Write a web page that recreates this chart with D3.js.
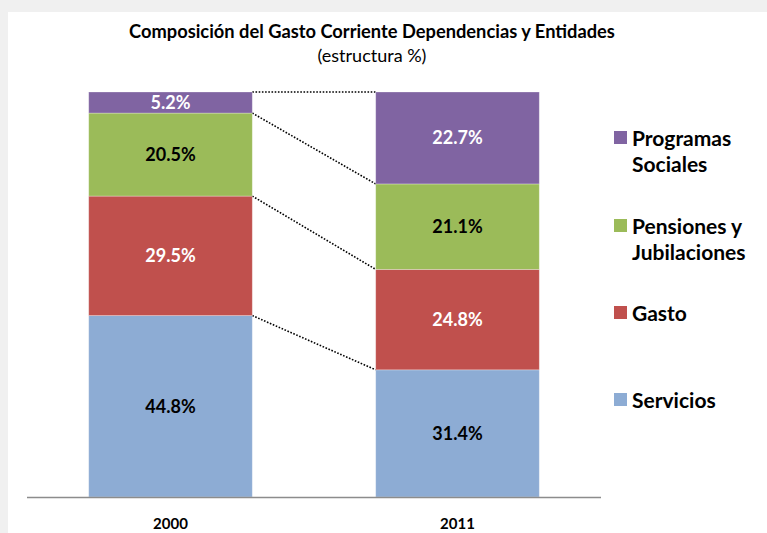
<!DOCTYPE html>
<html>
<head>
<meta charset="utf-8">
<script src="https://cdn.jsdelivr.net/npm/d3@7"></script>
<style>
  body { margin: 0; background: #f0f0f0; }
  svg { display: block; font-family: Lato, "Open Sans", sans-serif; }
</style>
</head>
<body>
<div id="chart"></div>
<script>
// data
var years = ["2000", "2011"];
var seriesNames = ["Servicios", "Gasto", "Pensiones y Jubilaciones", "Programas Sociales"];
var servicios = [44.8, 31.4];
var gasto = [29.5, 24.8];
var pensiones = [20.5, 21.1];
var programas = [5.2, 22.7];
var legendLines = [["Servicios"], ["Gasto"], ["Pensiones y", "Jubilaciones"], ["Programas", "Sociales"]];

var colors = ["#8DACD4", "#C0504D", "#9BBB59", "#8064A2"];
var labelColors = ["#000", "#fff", "#000", "#fff"];

var svgWidth = 767;
var svgHeight = 533;

var svg = d3.select("#chart").append("svg")
    .attr("width", svgWidth)
    .attr("height", svgHeight);

// gray frame with white panel
svg.append("rect").attr("width", svgWidth).attr("height", svgHeight).attr("fill", "#f0f0f0");
svg.append("rect").attr("x", 8).attr("y", 12).attr("width", svgWidth - 8).attr("height", svgHeight - 12).attr("fill", "#fff");

// build table for the stack
var table = years.map(function (y, i) {
    return {
        year: y,
        "Servicios": servicios[i],
        "Gasto": gasto[i],
        "Pensiones y Jubilaciones": pensiones[i],
        "Programas Sociales": programas[i]
    };
});
var stacked = d3.stack().keys(seriesNames)(table);

var x = d3.scaleBand().domain(years).range([27, 601]).paddingInner(0.43).paddingOuter(0.215);
var y = d3.scaleLinear().domain([0, 100]).range([497, 92]);

// title
svg.append("text")
    .attr("x", 372).attr("y", 38)
    .attr("text-anchor", "middle")
    .attr("font-weight", "bold")
    .attr("font-size", "18.3px")
    .attr("fill", "#000")
    .text("Composición  del Gasto Corriente Dependencias y Entidades");
svg.append("text")
    .attr("x", 372).attr("y", 62)
    .attr("text-anchor", "middle")
    .attr("font-size", "18px")
    .attr("fill", "#000")
    .text("(estructura %)");

// dotted connectors between the bars
var connectors = svg.append("g");
stacked.forEach(function (s) {
    connectors.append("line")
        .attr("x1", x("2000") + x.bandwidth())
        .attr("y1", y(s[0][1]))
        .attr("x2", x("2011"))
        .attr("y2", y(s[1][1]))
        .attr("stroke", "#000")
        .attr("stroke-width", 1.6)
        .attr("stroke-dasharray", "1.6,1.6");
});

// bars
var groups = svg.selectAll(".serie")
    .data(stacked)
    .enter()
    .append("g")
    .attr("fill", (d, i) => colors[i]);

groups.selectAll("rect")
    .data(d => d)
    .enter()
    .append("rect")
    .attr("x", d => x(d.data.year))
    .attr("y", d => y(d[1]))
    .attr("width", x.bandwidth())
    .attr("height", d => y(d[0]) - y(d[1]))
    .attr("stroke", "#fff")
    .attr("stroke-opacity", 0.35)
    .attr("stroke-width", 0.8);

// value labels
groups.selectAll("text")
    .data((d, i) => d.map(v => ({ v: v, i: i })))
    .enter()
    .append("text")
    .attr("x", d => x(d.v.data.year) + x.bandwidth() / 2)
    .attr("y", d => (y(d.v[0]) + y(d.v[1])) / 2)
    .attr("dy", "0.36em")
    .attr("text-anchor", "middle")
    .attr("font-weight", "bold")
    .attr("font-size", "18px")
    .attr("fill", d => labelColors[d.i])
    .text(d => (d.v[1] - d.v[0]).toFixed(1) + "%");

// x axis line
svg.append("line")
    .attr("x1", 27).attr("x2", 601)
    .attr("y1", 497.5).attr("y2", 497.5)
    .attr("stroke", "#8c8c8c")
    .attr("stroke-width", 1.5);

// year labels
svg.selectAll(".year")
    .data(years)
    .enter()
    .append("text")
    .attr("x", d => x(d) + x.bandwidth() / 2)
    .attr("y", 529)
    .attr("text-anchor", "middle")
    .attr("font-weight", "bold")
    .attr("font-size", "15px")
    .attr("fill", "#000")
    .text(d => d);

// legend
var legendY = [400, 313, 226, 138];
var legend = svg.append("g");
legendLines.forEach(function (lines, i) {
    legend.append("rect")
        .attr("x", 614).attr("y", legendY[i] - 7)
        .attr("width", 13).attr("height", 13)
        .attr("fill", colors[i]);
    lines.forEach(function (t, j) {
        legend.append("text")
            .attr("x", 632)
            .attr("y", legendY[i] + j * 26)
            .attr("dy", "0.36em")
            .attr("font-weight", "bold")
            .attr("font-size", "21px")
            .attr("fill", "#000")
            .text(t);
    });
});
</script>
</body>
</html>
